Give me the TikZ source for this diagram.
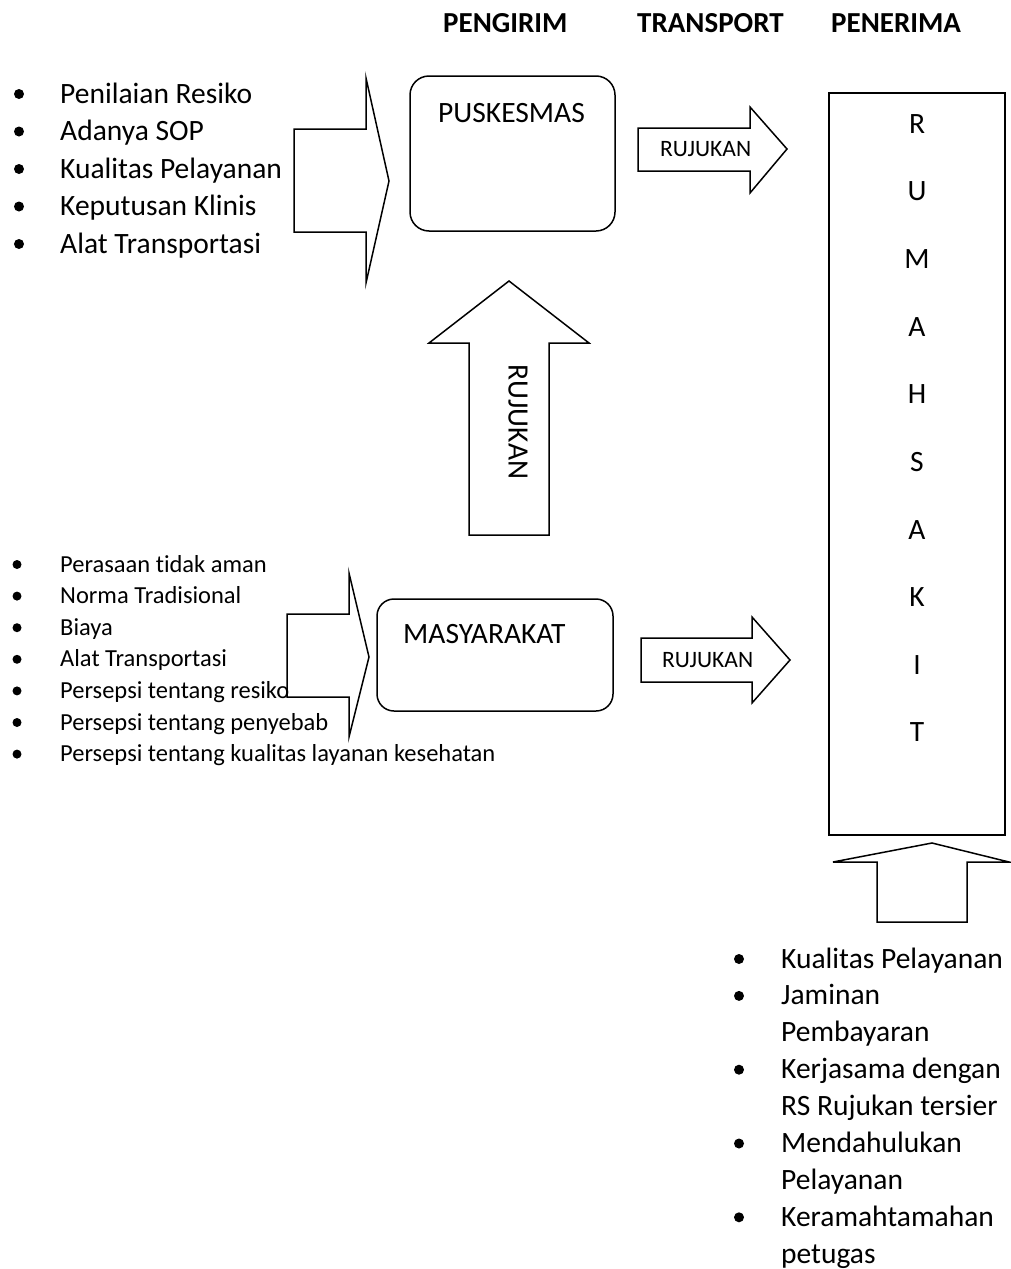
\documentclass[tikz,border=0pt]{standalone}
\usepackage{fontspec}
\setmainfont{Carlito}[Ligatures={NoCommon}]
\begin{document}
\begin{tikzpicture}[x=1pt,y=-1pt]
\tikzset{
  blockarrow/.style={draw, line width=1.5pt, line join=miter},
  boxstyle/.style={draw, line width=1.5pt, rounded corners=19pt, inner sep=0pt},
  big/.style={font=\fontsize{29.5}{35}\selectfont, inner sep=0pt},
  small/.style={font=\fontsize{24.5}{30}\selectfont, inner sep=0pt},
  arrowtxt/.style={font=\fontsize{23.5}{28}\selectfont, inner sep=0pt},
  headtxt/.style={font=\bfseries\fontsize{29}{34}\selectfont, inner sep=0pt},
  bul/.style={circle, fill=black, inner sep=0pt, minimum size=10pt},
  bulsmall/.style={circle, fill=black, inner sep=0pt, minimum size=9pt}
}
\useasboundingbox (0,0) rectangle (1010,1269);

% headers
\node[headtxt, anchor=base west] (h1) at (443,32) {PENGIRIM};
\node[headtxt, anchor=base west] (h2) at (637,32) {TRANSPORT};
\node[headtxt, anchor=base west] (h3) at (831,32) {PENERIMA};

% boxes
\node[boxstyle, minimum width=205pt, minimum height=155pt] (pusk) at (512.5,153.5) {};
\node[big, anchor=base west] (puskt) at (438,122) {PUSKESMAS};
\node[boxstyle, rounded corners=17pt, minimum width=236pt, minimum height=112pt] (masy) at (495,655) {};
\node[big, anchor=base west] (masyt) at (403,643) {MASYARAKAT};

% rumah sakit
\node[draw, line width=1.5pt, inner sep=0pt, minimum width=176pt, minimum height=742pt] (rs) at (917,464) {};
\foreach \l [count=\i] in {R,U,M,A,H,S,A,K,I,T} {
  \node[big] (rs\i) at (917,{124+67.6*(\i-1)}) {\l};
}

% block arrows
\draw[blockarrow] (294,129) -- (366,129) -- (366,78) -- (389,181) -- (366,283) -- (366,232) -- (294,232) -- cycle;
\draw[blockarrow] (638,128) -- (750,128) -- (750,107) -- (787,149) -- (750,193) -- (750,171) -- (638,171) -- cycle;
\draw[blockarrow] (469,535) -- (469,343) -- (429,343) -- (509,281) -- (589,343) -- (549,343) -- (549,535) -- cycle;
\draw[blockarrow] (287,614) -- (349,614) -- (349,573) -- (369,657) -- (349,737) -- (349,697) -- (287,697) -- cycle;
\draw[blockarrow] (641,638) -- (752,638) -- (752,617) -- (790,660) -- (752,703) -- (752,682) -- (641,682) -- cycle;
\draw[blockarrow] (877,922) -- (877,862) -- (833,862) -- (932,843) -- (1009,862) -- (967,862) -- (967,922) -- cycle;

% arrow labels
\node[arrowtxt, anchor=base west] (r1) at (660,156) {RUJUKAN};
\node[arrowtxt, anchor=base west] (r2) at (662,667) {RUJUKAN};
\node[big, rotate=-90] (r3) at (518,422) {RUJUKAN};

% top-left list
\foreach \t [count=\i] in {Penilaian Resiko, Adanya SOP, Kualitas Pelayanan, Keputusan Klinis, Alat Transportasi} {
  \node[big, anchor=base west] (ta\i) at (60,{103+37.5*(\i-1)}) {\t};
  \node[bul] (tb\i) at (19,{94+37.5*(\i-1)}) {};
}

% lower-left list
\foreach \t [count=\i] in {Perasaan tidak aman, Norma Tradisional, Biaya, Alat Transportasi, Persepsi tentang resiko, Persepsi tentang penyebab, Persepsi tentang kualitas layanan kesehatan} {
  \node[small, anchor=base west] (la\i) at (60,{572+31.6*(\i-1)}) {\t};
  \node[bulsmall] (lb\i) at (17,{564.5+31.6*(\i-1)}) {};
}

% bottom-right list
\foreach \t [count=\i] in {Kualitas Pelayanan, Jaminan, Pembayaran, Kerjasama dengan, RS Rujukan tersier, Mendahulukan, Pelayanan, Keramahtamahan, petugas} {
  \node[big, anchor=base west] (ba\i) at (781,{968+36.9*(\i-1)}) {\t};
}
\foreach \i in {1,2,4,6,8} {
  \node[bul] (bb\i) at (739,{959+36.9*(\i-1)}) {};
}
\end{tikzpicture}
\end{document}
